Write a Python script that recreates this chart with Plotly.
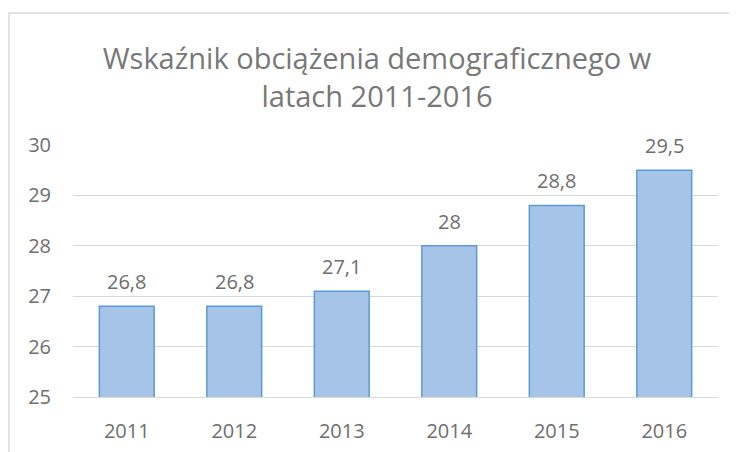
import plotly.graph_objects as go

years = ["2011", "2012", "2013", "2014", "2015", "2016"]
values = [26.8, 26.8, 27.1, 28.0, 28.8, 29.5]
y_ticks = [25, 26, 27, 28, 29, 30]
title_text = "Wskaźnik obciążenia demograficznego w<br>latach 2011-2016"

labels = [f"{v:g}".replace(".", ",") for v in values]

# page body has an 8px margin -> shrink figure so it fits the 737x452 window
OFF = 8
W, H = 737 - OFF, 452 - OFF
L, R, T, B = 73 - OFF, 19, 145 - OFF, 55

TXT = "#6e6e6e"

fig = go.Figure()
fig.add_trace(go.Bar(
    x=years, y=values,
    marker=dict(color="#a6c4e8", line=dict(color="#5b9bd5", width=1.5)),
    hoverinfo="skip",
))

# category axis: annotation x given as category index
for i, (v, lab) in enumerate(zip(values, labels)):
    fig.add_annotation(x=i, y=v, text=lab, showarrow=False, yanchor="bottom",
                       yshift=9, font=dict(family="Open Sans", size=20, color=TXT))

pw = W - L - R
ph = H - T - B
fig.add_shape(type="rect", xref="paper", yref="paper",
              x0=(9 - OFF - L) / pw, x1=(W + 20 - L) / pw,
              y0=-(H + 20 - (H - B)) / ph, y1=(H - B - (13 - OFF)) / ph,
              line=dict(color="#d9d9d9", width=1.5), fillcolor="rgba(0,0,0,0)", layer="above")

fig.update_layout(
    width=W, height=H,
    margin=dict(l=L, r=R, t=T, b=B, pad=0, autoexpand=False),
    paper_bgcolor="white", plot_bgcolor="white",
    showlegend=False,
    bargap=0.49,
    title=dict(text=title_text, x=(377 - OFF) / W, xanchor="center", xref="container",
               y=1 - (69 - OFF) / H, yanchor="top", yref="container",
               font=dict(family="Open Sans", size=29, color="#787878")),
    xaxis=dict(type="category", categoryorder="array", categoryarray=years, range=[-0.5, 5.5],
               showgrid=False, ticks="outside", ticklen=16, tickcolor="rgba(0,0,0,0)",
               showline=True, linecolor="#d9d9d9", linewidth=1,
               tickfont=dict(family="Open Sans", size=20, color=TXT),
               fixedrange=True),
    yaxis=dict(range=[25, 30], tickvals=y_ticks, showgrid=True, gridcolor="#d9d9d9", gridwidth=1,
               zeroline=False, ticks="outside", ticklen=17, tickcolor="rgba(0,0,0,0)", showline=False,
               tickfont=dict(family="Open Sans", size=20, color=TXT),
               fixedrange=True),
)

fig.write_html("out.html")
